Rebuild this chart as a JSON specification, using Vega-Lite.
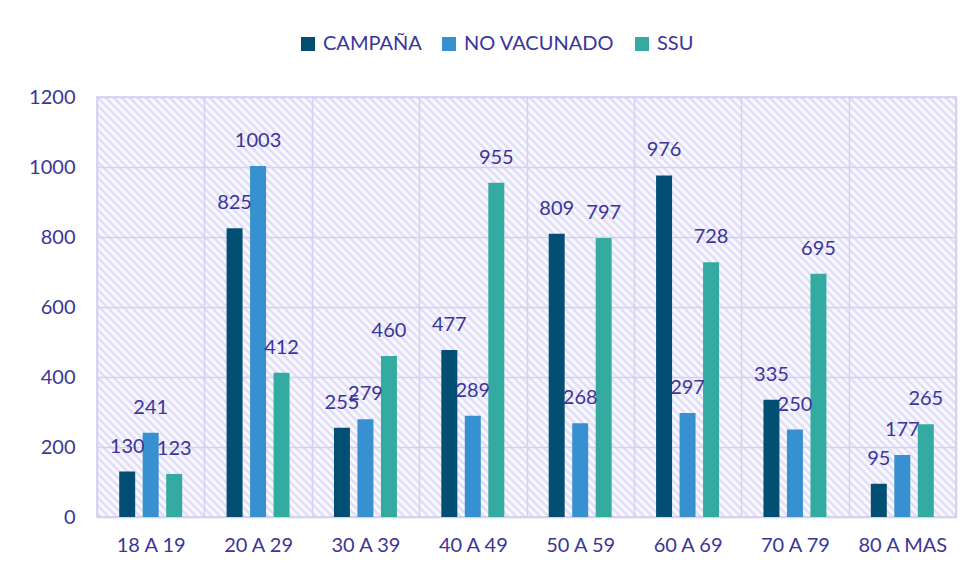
{
  "$schema": "https://vega.github.io/schema/vega-lite/v6.json",
  "width": 859,
  "height": 420,
  "autosize": "none",
  "padding": {"left": 97, "top": 97, "right": 16, "bottom": 58},
  "background": "white",
  "data": {
    "values": [
      {"grupo": "18 A 19", "serie": "CAMPAÑA", "valor": 130},
      {"grupo": "18 A 19", "serie": "NO VACUNADO", "valor": 241},
      {"grupo": "18 A 19", "serie": "SSU", "valor": 123},
      {"grupo": "20 A 29", "serie": "CAMPAÑA", "valor": 825},
      {"grupo": "20 A 29", "serie": "NO VACUNADO", "valor": 1003},
      {"grupo": "20 A 29", "serie": "SSU", "valor": 412},
      {"grupo": "30 A 39", "serie": "CAMPAÑA", "valor": 255},
      {"grupo": "30 A 39", "serie": "NO VACUNADO", "valor": 279},
      {"grupo": "30 A 39", "serie": "SSU", "valor": 460},
      {"grupo": "40 A 49", "serie": "CAMPAÑA", "valor": 477},
      {"grupo": "40 A 49", "serie": "NO VACUNADO", "valor": 289},
      {"grupo": "40 A 49", "serie": "SSU", "valor": 955},
      {"grupo": "50 A 59", "serie": "CAMPAÑA", "valor": 809},
      {"grupo": "50 A 59", "serie": "NO VACUNADO", "valor": 268},
      {"grupo": "50 A 59", "serie": "SSU", "valor": 797},
      {"grupo": "60 A 69", "serie": "CAMPAÑA", "valor": 976},
      {"grupo": "60 A 69", "serie": "NO VACUNADO", "valor": 297},
      {"grupo": "60 A 69", "serie": "SSU", "valor": 728},
      {"grupo": "70 A 79", "serie": "CAMPAÑA", "valor": 335},
      {"grupo": "70 A 79", "serie": "NO VACUNADO", "valor": 250},
      {"grupo": "70 A 79", "serie": "SSU", "valor": 695},
      {"grupo": "80 A MAS", "serie": "CAMPAÑA", "valor": 95},
      {"grupo": "80 A MAS", "serie": "NO VACUNADO", "valor": 177},
      {"grupo": "80 A MAS", "serie": "SSU", "valor": 265}
    ]
  },
  "encoding": {
    "x": {
      "field": "grupo", "type": "nominal", "sort": null,
      "scale": {"paddingInner": 0, "paddingOuter": 0},
      "axis": {
        "title": null, "labelAngle": 0, "grid": true, "tickBand": "extent",
        "gridColor": "#d3d0f1", "gridWidth": 1.5, "domain": false, "ticks": false,
        "labelPadding": 18, "labelFontSize": 20, "labelFont": "Lato", "labelColor": "#3b3599"
      }
    },
    "xOffset": {
      "field": "serie", "type": "nominal", "sort": ["CAMPAÑA", "NO VACUNADO", "SSU"],
      "scale": {"paddingInner": 0.32, "paddingOuter": 0.945}
    },
    "y": {
      "field": "valor", "type": "quantitative",
      "scale": {"domain": [0, 1200], "nice": false},
      "axis": {
        "title": null, "values": [0, 200, 400, 600, 800, 1000, 1200], "format": "d",
        "grid": true, "gridColor": "#d3d0f1", "gridWidth": 1.5, "domain": false, "ticks": false,
        "labelPadding": 22, "labelFontSize": 20, "labelFont": "Lato", "labelColor": "#3b3599"
      }
    }
  },
  "layer": [
    {
      "mark": {"type": "bar"},
      "encoding": {
        "color": {
          "field": "serie", "type": "nominal",
          "scale": {"domain": ["CAMPAÑA", "NO VACUNADO", "SSU"], "range": ["#024f73", "#3790cf", "#34aba0"]},
          "legend": {
            "orient": "none", "legendX": 201, "legendY": -63, "direction": "horizontal",
            "title": null, "symbolType": "square", "symbolSize": 196, "symbolStrokeWidth": 0,
            "symbolOpacity": 1, "labelFontSize": 20, "labelFont": "Lato", "labelColor": "#3b3599",
            "columnPadding": 17, "labelOffset": 5
          }
        }
      }
    },
    {
      "mark": {"type": "text", "dy": -25, "baseline": "middle", "fontSize": 20, "font": "Lato", "color": "#3b3599"},
      "encoding": {"text": {"field": "valor", "type": "quantitative"}}
    }
  ],
  "config": {
    "view": {
      "stroke": "#cfcbef",
      "strokeWidth": 1.5,
      "fill": {
        "gradient": "linear", "x1": 0, "y1": 1, "x2": 1.2026, "y2": 0.412,
        "stops": [
{"offset":0,"color":"#fff"},{"offset":0.003125,"color":"#dddaf5"},{"offset":0.00625,"color":"#fff"},{"offset":0.009375,"color":"#dddaf5"},{"offset":0.0125,"color":"#fff"},{"offset":0.015625,"color":"#dddaf5"},{"offset":0.01875,"color":"#fff"},{"offset":0.021875,"color":"#dddaf5"},
{"offset":0.025,"color":"#fff"},{"offset":0.028125,"color":"#dddaf5"},{"offset":0.03125,"color":"#fff"},{"offset":0.034375,"color":"#dddaf5"},{"offset":0.0375,"color":"#fff"},{"offset":0.040625,"color":"#dddaf5"},{"offset":0.04375,"color":"#fff"},{"offset":0.046875,"color":"#dddaf5"},
{"offset":0.05,"color":"#fff"},{"offset":0.053125,"color":"#dddaf5"},{"offset":0.05625,"color":"#fff"},{"offset":0.059375,"color":"#dddaf5"},{"offset":0.0625,"color":"#fff"},{"offset":0.065625,"color":"#dddaf5"},{"offset":0.06875,"color":"#fff"},{"offset":0.071875,"color":"#dddaf5"},
{"offset":0.075,"color":"#fff"},{"offset":0.078125,"color":"#dddaf5"},{"offset":0.08125,"color":"#fff"},{"offset":0.084375,"color":"#dddaf5"},{"offset":0.0875,"color":"#fff"},{"offset":0.090625,"color":"#dddaf5"},{"offset":0.09375,"color":"#fff"},{"offset":0.096875,"color":"#dddaf5"},
{"offset":0.1,"color":"#fff"},{"offset":0.103125,"color":"#dddaf5"},{"offset":0.10625,"color":"#fff"},{"offset":0.109375,"color":"#dddaf5"},{"offset":0.1125,"color":"#fff"},{"offset":0.115625,"color":"#dddaf5"},{"offset":0.11875,"color":"#fff"},{"offset":0.121875,"color":"#dddaf5"},
{"offset":0.125,"color":"#fff"},{"offset":0.128125,"color":"#dddaf5"},{"offset":0.13125,"color":"#fff"},{"offset":0.134375,"color":"#dddaf5"},{"offset":0.1375,"color":"#fff"},{"offset":0.140625,"color":"#dddaf5"},{"offset":0.14375,"color":"#fff"},{"offset":0.146875,"color":"#dddaf5"},
{"offset":0.15,"color":"#fff"},{"offset":0.153125,"color":"#dddaf5"},{"offset":0.15625,"color":"#fff"},{"offset":0.159375,"color":"#dddaf5"},{"offset":0.1625,"color":"#fff"},{"offset":0.165625,"color":"#dddaf5"},{"offset":0.16875,"color":"#fff"},{"offset":0.171875,"color":"#dddaf5"},
{"offset":0.175,"color":"#fff"},{"offset":0.178125,"color":"#dddaf5"},{"offset":0.18125,"color":"#fff"},{"offset":0.184375,"color":"#dddaf5"},{"offset":0.1875,"color":"#fff"},{"offset":0.190625,"color":"#dddaf5"},{"offset":0.19375,"color":"#fff"},{"offset":0.196875,"color":"#dddaf5"},
{"offset":0.2,"color":"#fff"},{"offset":0.203125,"color":"#dddaf5"},{"offset":0.20625,"color":"#fff"},{"offset":0.209375,"color":"#dddaf5"},{"offset":0.2125,"color":"#fff"},{"offset":0.215625,"color":"#dddaf5"},{"offset":0.21875,"color":"#fff"},{"offset":0.221875,"color":"#dddaf5"},
{"offset":0.225,"color":"#fff"},{"offset":0.228125,"color":"#dddaf5"},{"offset":0.23125,"color":"#fff"},{"offset":0.234375,"color":"#dddaf5"},{"offset":0.2375,"color":"#fff"},{"offset":0.240625,"color":"#dddaf5"},{"offset":0.24375,"color":"#fff"},{"offset":0.246875,"color":"#dddaf5"},
{"offset":0.25,"color":"#fff"},{"offset":0.253125,"color":"#dddaf5"},{"offset":0.25625,"color":"#fff"},{"offset":0.259375,"color":"#dddaf5"},{"offset":0.2625,"color":"#fff"},{"offset":0.265625,"color":"#dddaf5"},{"offset":0.26875,"color":"#fff"},{"offset":0.271875,"color":"#dddaf5"},
{"offset":0.275,"color":"#fff"},{"offset":0.278125,"color":"#dddaf5"},{"offset":0.28125,"color":"#fff"},{"offset":0.284375,"color":"#dddaf5"},{"offset":0.2875,"color":"#fff"},{"offset":0.290625,"color":"#dddaf5"},{"offset":0.29375,"color":"#fff"},{"offset":0.296875,"color":"#dddaf5"},
{"offset":0.3,"color":"#fff"},{"offset":0.303125,"color":"#dddaf5"},{"offset":0.30625,"color":"#fff"},{"offset":0.309375,"color":"#dddaf5"},{"offset":0.3125,"color":"#fff"},{"offset":0.315625,"color":"#dddaf5"},{"offset":0.31875,"color":"#fff"},{"offset":0.321875,"color":"#dddaf5"},
{"offset":0.325,"color":"#fff"},{"offset":0.328125,"color":"#dddaf5"},{"offset":0.33125,"color":"#fff"},{"offset":0.334375,"color":"#dddaf5"},{"offset":0.3375,"color":"#fff"},{"offset":0.340625,"color":"#dddaf5"},{"offset":0.34375,"color":"#fff"},{"offset":0.346875,"color":"#dddaf5"},
{"offset":0.35,"color":"#fff"},{"offset":0.353125,"color":"#dddaf5"},{"offset":0.35625,"color":"#fff"},{"offset":0.359375,"color":"#dddaf5"},{"offset":0.3625,"color":"#fff"},{"offset":0.365625,"color":"#dddaf5"},{"offset":0.36875,"color":"#fff"},{"offset":0.371875,"color":"#dddaf5"},
{"offset":0.375,"color":"#fff"},{"offset":0.378125,"color":"#dddaf5"},{"offset":0.38125,"color":"#fff"},{"offset":0.384375,"color":"#dddaf5"},{"offset":0.3875,"color":"#fff"},{"offset":0.390625,"color":"#dddaf5"},{"offset":0.39375,"color":"#fff"},{"offset":0.396875,"color":"#dddaf5"},
{"offset":0.4,"color":"#fff"},{"offset":0.403125,"color":"#dddaf5"},{"offset":0.40625,"color":"#fff"},{"offset":0.409375,"color":"#dddaf5"},{"offset":0.4125,"color":"#fff"},{"offset":0.415625,"color":"#dddaf5"},{"offset":0.41875,"color":"#fff"},{"offset":0.421875,"color":"#dddaf5"},
{"offset":0.425,"color":"#fff"},{"offset":0.428125,"color":"#dddaf5"},{"offset":0.43125,"color":"#fff"},{"offset":0.434375,"color":"#dddaf5"},{"offset":0.4375,"color":"#fff"},{"offset":0.440625,"color":"#dddaf5"},{"offset":0.44375,"color":"#fff"},{"offset":0.446875,"color":"#dddaf5"},
{"offset":0.45,"color":"#fff"},{"offset":0.453125,"color":"#dddaf5"},{"offset":0.45625,"color":"#fff"},{"offset":0.459375,"color":"#dddaf5"},{"offset":0.4625,"color":"#fff"},{"offset":0.465625,"color":"#dddaf5"},{"offset":0.46875,"color":"#fff"},{"offset":0.471875,"color":"#dddaf5"},
{"offset":0.475,"color":"#fff"},{"offset":0.478125,"color":"#dddaf5"},{"offset":0.48125,"color":"#fff"},{"offset":0.484375,"color":"#dddaf5"},{"offset":0.4875,"color":"#fff"},{"offset":0.490625,"color":"#dddaf5"},{"offset":0.49375,"color":"#fff"},{"offset":0.496875,"color":"#dddaf5"},
{"offset":0.5,"color":"#fff"},{"offset":0.503125,"color":"#dddaf5"},{"offset":0.50625,"color":"#fff"},{"offset":0.509375,"color":"#dddaf5"},{"offset":0.5125,"color":"#fff"},{"offset":0.515625,"color":"#dddaf5"},{"offset":0.51875,"color":"#fff"},{"offset":0.521875,"color":"#dddaf5"},
{"offset":0.525,"color":"#fff"},{"offset":0.528125,"color":"#dddaf5"},{"offset":0.53125,"color":"#fff"},{"offset":0.534375,"color":"#dddaf5"},{"offset":0.5375,"color":"#fff"},{"offset":0.540625,"color":"#dddaf5"},{"offset":0.54375,"color":"#fff"},{"offset":0.546875,"color":"#dddaf5"},
{"offset":0.55,"color":"#fff"},{"offset":0.553125,"color":"#dddaf5"},{"offset":0.55625,"color":"#fff"},{"offset":0.559375,"color":"#dddaf5"},{"offset":0.5625,"color":"#fff"},{"offset":0.565625,"color":"#dddaf5"},{"offset":0.56875,"color":"#fff"},{"offset":0.571875,"color":"#dddaf5"},
{"offset":0.575,"color":"#fff"},{"offset":0.578125,"color":"#dddaf5"},{"offset":0.58125,"color":"#fff"},{"offset":0.584375,"color":"#dddaf5"},{"offset":0.5875,"color":"#fff"},{"offset":0.590625,"color":"#dddaf5"},{"offset":0.59375,"color":"#fff"},{"offset":0.596875,"color":"#dddaf5"},
{"offset":0.6,"color":"#fff"},{"offset":0.603125,"color":"#dddaf5"},{"offset":0.60625,"color":"#fff"},{"offset":0.609375,"color":"#dddaf5"},{"offset":0.6125,"color":"#fff"},{"offset":0.615625,"color":"#dddaf5"},{"offset":0.61875,"color":"#fff"},{"offset":0.621875,"color":"#dddaf5"},
{"offset":0.625,"color":"#fff"},{"offset":0.628125,"color":"#dddaf5"},{"offset":0.63125,"color":"#fff"},{"offset":0.634375,"color":"#dddaf5"},{"offset":0.6375,"color":"#fff"},{"offset":0.640625,"color":"#dddaf5"},{"offset":0.64375,"color":"#fff"},{"offset":0.646875,"color":"#dddaf5"},
{"offset":0.65,"color":"#fff"},{"offset":0.653125,"color":"#dddaf5"},{"offset":0.65625,"color":"#fff"},{"offset":0.659375,"color":"#dddaf5"},{"offset":0.6625,"color":"#fff"},{"offset":0.665625,"color":"#dddaf5"},{"offset":0.66875,"color":"#fff"},{"offset":0.671875,"color":"#dddaf5"},
{"offset":0.675,"color":"#fff"},{"offset":0.678125,"color":"#dddaf5"},{"offset":0.68125,"color":"#fff"},{"offset":0.684375,"color":"#dddaf5"},{"offset":0.6875,"color":"#fff"},{"offset":0.690625,"color":"#dddaf5"},{"offset":0.69375,"color":"#fff"},{"offset":0.696875,"color":"#dddaf5"},
{"offset":0.7,"color":"#fff"},{"offset":0.703125,"color":"#dddaf5"},{"offset":0.70625,"color":"#fff"},{"offset":0.709375,"color":"#dddaf5"},{"offset":0.7125,"color":"#fff"},{"offset":0.715625,"color":"#dddaf5"},{"offset":0.71875,"color":"#fff"},{"offset":0.721875,"color":"#dddaf5"},
{"offset":0.725,"color":"#fff"},{"offset":0.728125,"color":"#dddaf5"},{"offset":0.73125,"color":"#fff"},{"offset":0.734375,"color":"#dddaf5"},{"offset":0.7375,"color":"#fff"},{"offset":0.740625,"color":"#dddaf5"},{"offset":0.74375,"color":"#fff"},{"offset":0.746875,"color":"#dddaf5"},
{"offset":0.75,"color":"#fff"},{"offset":0.753125,"color":"#dddaf5"},{"offset":0.75625,"color":"#fff"},{"offset":0.759375,"color":"#dddaf5"},{"offset":0.7625,"color":"#fff"},{"offset":0.765625,"color":"#dddaf5"},{"offset":0.76875,"color":"#fff"},{"offset":0.771875,"color":"#dddaf5"},
{"offset":0.775,"color":"#fff"},{"offset":0.778125,"color":"#dddaf5"},{"offset":0.78125,"color":"#fff"},{"offset":0.784375,"color":"#dddaf5"},{"offset":0.7875,"color":"#fff"},{"offset":0.790625,"color":"#dddaf5"},{"offset":0.79375,"color":"#fff"},{"offset":0.796875,"color":"#dddaf5"},
{"offset":0.8,"color":"#fff"},{"offset":0.803125,"color":"#dddaf5"},{"offset":0.80625,"color":"#fff"},{"offset":0.809375,"color":"#dddaf5"},{"offset":0.8125,"color":"#fff"},{"offset":0.815625,"color":"#dddaf5"},{"offset":0.81875,"color":"#fff"},{"offset":0.821875,"color":"#dddaf5"},
{"offset":0.825,"color":"#fff"},{"offset":0.828125,"color":"#dddaf5"},{"offset":0.83125,"color":"#fff"},{"offset":0.834375,"color":"#dddaf5"},{"offset":0.8375,"color":"#fff"},{"offset":0.840625,"color":"#dddaf5"},{"offset":0.84375,"color":"#fff"},{"offset":0.846875,"color":"#dddaf5"},
{"offset":0.85,"color":"#fff"},{"offset":0.853125,"color":"#dddaf5"},{"offset":0.85625,"color":"#fff"},{"offset":0.859375,"color":"#dddaf5"},{"offset":0.8625,"color":"#fff"},{"offset":0.865625,"color":"#dddaf5"},{"offset":0.86875,"color":"#fff"},{"offset":0.871875,"color":"#dddaf5"},
{"offset":0.875,"color":"#fff"},{"offset":0.878125,"color":"#dddaf5"},{"offset":0.88125,"color":"#fff"},{"offset":0.884375,"color":"#dddaf5"},{"offset":0.8875,"color":"#fff"},{"offset":0.890625,"color":"#dddaf5"},{"offset":0.89375,"color":"#fff"},{"offset":0.896875,"color":"#dddaf5"},
{"offset":0.9,"color":"#fff"},{"offset":0.903125,"color":"#dddaf5"},{"offset":0.90625,"color":"#fff"},{"offset":0.909375,"color":"#dddaf5"},{"offset":0.9125,"color":"#fff"},{"offset":0.915625,"color":"#dddaf5"},{"offset":0.91875,"color":"#fff"},{"offset":0.921875,"color":"#dddaf5"},
{"offset":0.925,"color":"#fff"},{"offset":0.928125,"color":"#dddaf5"},{"offset":0.93125,"color":"#fff"},{"offset":0.934375,"color":"#dddaf5"},{"offset":0.9375,"color":"#fff"},{"offset":0.940625,"color":"#dddaf5"},{"offset":0.94375,"color":"#fff"},{"offset":0.946875,"color":"#dddaf5"},
{"offset":0.95,"color":"#fff"},{"offset":0.953125,"color":"#dddaf5"},{"offset":0.95625,"color":"#fff"},{"offset":0.959375,"color":"#dddaf5"},{"offset":0.9625,"color":"#fff"},{"offset":0.965625,"color":"#dddaf5"},{"offset":0.96875,"color":"#fff"},{"offset":0.971875,"color":"#dddaf5"},
{"offset":0.975,"color":"#fff"},{"offset":0.978125,"color":"#dddaf5"},{"offset":0.98125,"color":"#fff"},{"offset":0.984375,"color":"#dddaf5"},{"offset":0.9875,"color":"#fff"},{"offset":0.990625,"color":"#dddaf5"},{"offset":0.99375,"color":"#fff"},{"offset":0.996875,"color":"#dddaf5"},
{"offset":1,"color":"#fff"}
        ]
      }
    }
  }
}
